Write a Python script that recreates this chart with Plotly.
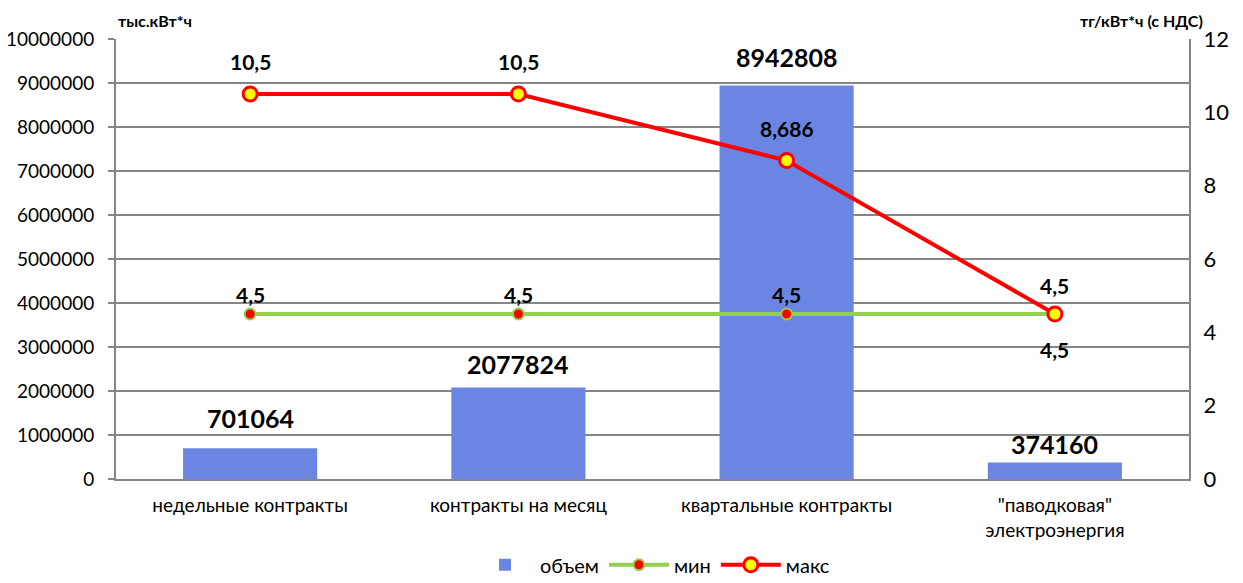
import plotly.graph_objects as go

categorias = ["недельные контракты", "контракты на месяц", "квартальные контракты",
              "\"паводковая\"<br>электроэнергия"]
objem = [701064, 2077824, 8942808, 374160]
tarif_min = [4.5, 4.5, 4.5, 4.5]
tarif_max = [10.5, 10.5, 8.686, 4.5]

rotulos_min = ["4,5", "4,5", "4,5", "4,5"]
rotulos_max = ["10,5", "10,5", "8,686", "4,5"]

FONTE = "Lato, 'Open Sans', sans-serif"
# a pagina tem margem de 8px no body, compensada aqui
DESLOC = 8

fig = go.Figure()

fig.add_trace(go.Bar(
    x=categorias, y=objem, name="объем",
    marker=dict(color="#6a86e2", line=dict(width=0)),
    width=0.5,
))

fig.add_trace(go.Scatter(
    x=categorias, y=tarif_min, name="мин", yaxis="y2",
    mode="lines+markers",
    line=dict(color="#92d050", width=4),
    marker=dict(color="#ff0000", size=11, line=dict(color="#92d050", width=2)),
    cliponaxis=False,
))

fig.add_trace(go.Scatter(
    x=categorias, y=tarif_max, name="макс", yaxis="y2",
    mode="lines+markers",
    line=dict(color="#ff0000", width=4),
    marker=dict(color="#ffff00", size=14, line=dict(color="#ff0000", width=3)),
    cliponaxis=False,
))

# rotulos como anotacoes para controlar a distancia ao ponto (como no Excel)
anot = []
desloc_barras = [30, 24, 29, 19]
for cat, v, dy in zip(categorias, objem, desloc_barras):
    anot.append(dict(x=cat, y=v, xref="x", yref="y", text=f"<b>{v}</b>",
                     showarrow=False, yshift=dy, font=dict(size=25)))
desloc_min = [20, 20, 20, -35]
for cat, v, t, dy in zip(categorias, tarif_min, rotulos_min, desloc_min):
    anot.append(dict(x=cat, y=v, xref="x", yref="y2", text=f"<b>{t}</b>",
                     showarrow=False, yshift=dy, font=dict(size=21)))
desloc_max = [33, 33, 32, 29]
for cat, v, t, dy in zip(categorias, tarif_max, rotulos_max, desloc_max):
    anot.append(dict(x=cat, y=v, xref="x", yref="y2", text=f"<b>{t}</b>",
                     showarrow=False, yshift=dy, font=dict(size=21)))

anot.append(dict(text="<b>тыс.кВт*ч</b>", xref="paper", yref="paper", x=0, y=1,
                 xanchor="left", yanchor="bottom", yshift=7, showarrow=False,
                 font=dict(size=16)))
anot.append(dict(text="<b>тг/кВт*ч (с НДС)</b>", xref="paper", yref="paper", x=1, y=1,
                 xanchor="right", yanchor="bottom", xshift=16, yshift=7, showarrow=False,
                 font=dict(size=16)))

fig.update_layout(
    width=1243, height=583,
    margin=dict(l=116 - DESLOC, r=54 + DESLOC, t=39 - DESLOC, b=104 + DESLOC,
                autoexpand=False),
    plot_bgcolor="white", paper_bgcolor="white",
    font=dict(family=FONTE, color="black"),
    separators=", ",
    showlegend=True,
    legend=dict(orientation="h", x=0.5, xanchor="center",
                yref="container", y=0.045, yanchor="middle",
                font=dict(size=20), traceorder="normal", itemwidth=60),
    xaxis=dict(showline=True, linecolor="#868686", linewidth=2,
               tickfont=dict(size=19), ticks="", showgrid=False,
               ticklabelstandoff=8),
    yaxis=dict(range=[0, 10000000], dtick=1000000, tickformat="d",
               showgrid=True, gridcolor="#868686", gridwidth=2,
               showline=True, linecolor="#868686", linewidth=2,
               ticks="outside", ticklen=6, tickcolor="#868686", tickwidth=2,
               tickfont=dict(size=19), zeroline=False, ticklabelstandoff=10),
    yaxis2=dict(overlaying="y", side="right", range=[0, 12], dtick=2,
                showgrid=False, showline=True, linecolor="#868686", linewidth=2,
                tickfont=dict(size=22), zeroline=False, ticklabelstandoff=8),
    annotations=anot,
)

fig.write_html("out.html")
